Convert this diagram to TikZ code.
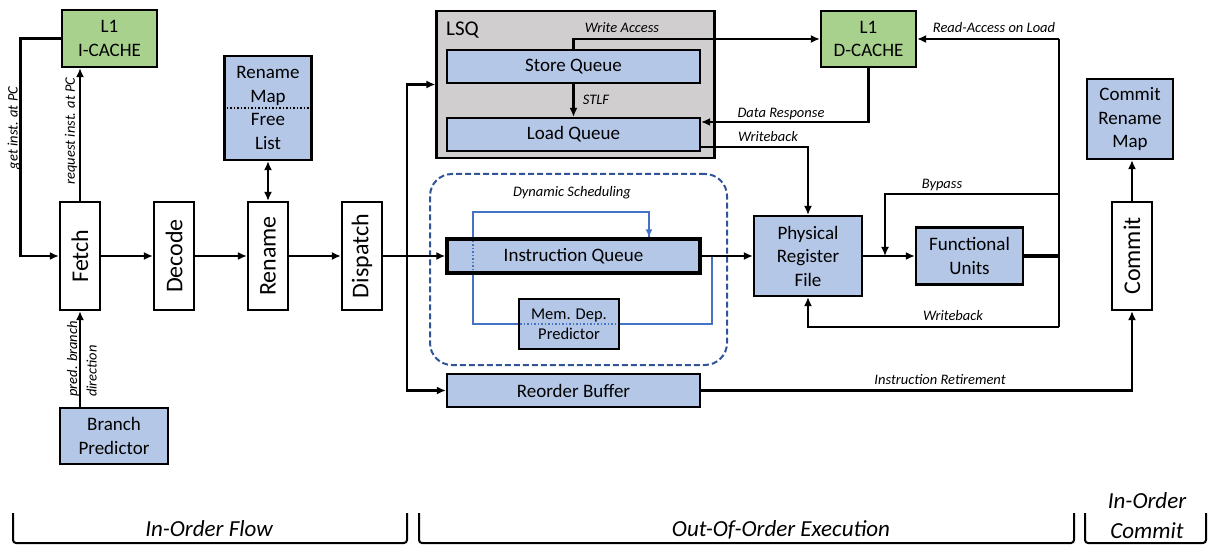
\documentclass[tikz,border=0pt]{standalone}
\usepackage{fontspec}
\usepackage{graphicx}
\setmainfont{Carlito}
\usetikzlibrary{arrows.meta,calc}
\pgfdeclarelayer{background}
\pgfsetlayers{background,main}
\definecolor{boxblue}{HTML}{B4C7E7}
\definecolor{boxgreen}{HTML}{A9D18E}
\definecolor{lsqgray}{HTML}{D0CECE}
\definecolor{dsblue}{HTML}{2F5597}
\definecolor{lnblue}{HTML}{4472C4}
\begin{document}
\begin{tikzpicture}[x=1pt,y=-1pt,
  box/.style={draw=black, line width=2.2pt, inner sep=0pt, align=center, font=\fontsize{19}{23.5}\selectfont},
  bbox/.style={box, fill=boxblue},
  gbox/.style={box, fill=boxgreen},
  stagebox/.style={draw=black, line width=2.2pt, fill=white, inner sep=0pt, minimum width=40pt, minimum height=108pt},
  lab/.style={font=\fontsize{14.5}{19.5}\selectfont\itshape, inner sep=0pt},
  bracelab/.style={font=\fontsize{23}{30}\selectfont\itshape, inner sep=0pt, align=center},
  conn/.style={line width=2.9pt},
  arr/.style={conn, -{Latex[length=9pt,width=8pt]}},
  bline/.style={draw=lnblue, line width=1.8pt},
  brace/.style={line width=2pt, rounded corners=3pt}
]
\useasboundingbox (0,0) rectangle (1213,545);

% dynamic scheduling region
\node[draw=dsblue, dashed, dash pattern=on 6pt off 3pt, line width=2pt, rounded corners=22pt,
      minimum width=297pt, minimum height=191pt, inner sep=0pt] (ds) at (578.5,269.5) {};
\node[lab, anchor=base] (dslab) at (572,197) {Dynamic Scheduling};

% LSQ
\node[draw=black, fill=lsqgray, line width=2.2pt, minimum width=278pt, minimum height=147pt, inner sep=0pt] (lsq) at (575.5,84.5) {};
\node[font=\fontsize{21}{24}\selectfont, anchor=west, inner sep=0pt] (lsqlab) at (446,30) {LSQ};
\node[bbox, minimum width=253pt, minimum height=33pt] (sq) at (573.5,66.5) {Store Queue};
\node[bbox, minimum width=253pt, minimum height=33pt] (lq) at (573.5,134.5) {Load Queue};

% caches
\node[gbox, minimum width=95pt, minimum height=57pt] (icache) at (109.5,38.5) {L1\\I-CACHE};
\node[gbox, minimum width=95pt, minimum height=56pt] (dcache) at (868.5,39) {L1\\D-CACHE};

% rename map
\node[bbox, minimum width=87pt, minimum height=104pt] (rmap) at (268,108) {Rename\\Map\\Free\\List};
\draw[line width=1.5pt, dotted] (rmap.west) -- (rmap.east);

% stages
\node[stagebox] (fetch) at (80,256) {\rotatebox{90}{\fontsize{24}{28}\selectfont Fetch}};
\node[stagebox] (decode) at (174,256) {\rotatebox{90}{\fontsize{24}{28}\selectfont Decode}};
\node[stagebox] (rename) at (268,256) {\rotatebox{90}{\fontsize{24}{28}\selectfont Rename}};
\node[stagebox] (dispatch) at (362,256) {\rotatebox{90}{\fontsize{24}{28}\selectfont Dispatch}};
\node[stagebox] (commit) at (1132,256) {\rotatebox{90}{\fontsize{24}{28}\selectfont Commit}};

\node[bbox, minimum width=108pt, minimum height=56pt] (bp) at (114,436) {Branch\\Predictor};
\node[bbox, minimum width=86pt, minimum height=80pt] (crm) at (1130,119) {Commit\\Rename\\Map};

% out-of-order boxes
\node[bbox, line width=3.3pt, minimum width=253pt, minimum height=34pt] (iq) at (573.5,256) {Instruction Queue};
\node[bbox, font=\fontsize{16.5}{20}\selectfont, minimum width=100pt, minimum height=50pt] (mdp) at (569,324) {Mem. Dep.\\Predictor};
\node[bbox, minimum width=253pt, minimum height=33pt] (rob) at (573.5,390.5) {Reorder Buffer};
\node[bbox, minimum width=108pt, minimum height=80pt] (prf) at (808,256) {Physical\\Register\\File};
\node[bbox, minimum width=107pt, minimum height=57pt] (fu) at (969.5,256) {Functional\\Units};

% blue scheduling path (behind boxes)
\coordinate (bsplit) at (712,256);
\coordinate (bturn) at (649,212);
\begin{pgfonlayer}{background}
\draw[bline] (bsplit) |- (473,324) |- (bturn) -- (bturn |- iq.north);
\end{pgfonlayer}
\draw[bline, -{Latex[length=8pt,width=7pt]}] ($(bturn |- iq.north)+(0,-10)$) -- (bturn |- iq.north);

% blue dotted see-through parts
\draw[bline, line width=1.5pt, dotted] (473,241) -- (473,271);
\draw[bline, line width=1.5pt, dotted] (520,324) -- (618,324);

% front-end connectors
\draw[arr] (icache.west) -- ++(-40,0) |- (fetch.west);
\node[lab, rotate=90] (getlab) at (14,128) {get inst. at PC};
\draw[arr] (fetch.north) -- (fetch.north |- icache.south);
\node[lab, rotate=90] (reqlab) at (71,131) {request inst. at PC};
\draw[arr] (fetch.south |- bp.north) -- (fetch.south);
\node[lab, rotate=90, align=left, anchor=west] (predlab) at (82,397) {pred. branch\\direction};
\draw[arr] (fetch.east) -- (decode.west);
\draw[arr] (decode.east) -- (rename.west);
\draw[arr] (rename.east) -- (dispatch.west);
\draw[conn, {Latex[length=9pt,width=8pt]}-{Latex[length=9pt,width=8pt]}] (rmap.south) -- (rename.north);

% dispatch
\coordinate (dsplit) at (407,256);
\draw[arr] (dispatch.east) -- (iq.west);
\draw[arr] (dsplit) |- (lsq.west);
\draw[arr] (dsplit) |- (rob.west);

% LSQ and D-cache
\draw[arr] (sq.north) |- (dcache.west);
\node[lab, anchor=base] (walab) at (622,33) {Write Access};
\draw[arr] (sq.south) -- (lq.north);
\node[lab, anchor=base] (stlflab) at (596,105) {STLF};
\draw[arr] (dcache.south) |- ([yshift=12.5pt]lq.east);
\node[lab, anchor=base] (drlab) at (781,118) {Data Response};
\draw[arr] ([yshift=-12.5pt]lq.east) -| (prf.north);
\node[lab, anchor=base] (wb1lab) at (768,142) {Writeback};

% execution
\draw[arr] (iq.east) -- (prf.west);
\draw[arr] (prf.east) -- (fu.west);
\coordinate (bustop) at (1059,39);
\coordinate (busbot) at (1059,327);
\coordinate (bypass) at (1059,194);
\coordinate (bpin) at (885,256);
\draw[conn] (bustop) -- (busbot);
\draw[conn, line width=3.4pt] (fu.east) -- (fu.east -| bustop);
\draw[arr] (bustop) -- (dcache.east);
\node[lab, anchor=base] (ralab) at (994,33) {Read-Access on Load};
\draw[arr] (bypass) -| (bpin);
\node[lab, anchor=base] (bylab) at (942,189) {Bypass};
\draw[arr] (busbot) -| (prf.south);
\node[lab, anchor=base] (wb2lab) at (953,321) {Writeback};

% commit
\draw[arr] (rob.east) -| (commit.south);
\node[lab, anchor=base] (irlab) at (940,384) {Instruction Retirement};
\draw[arr] (commit.north) -- (commit.north |- crm.south);

% braces
\draw[brace] (13,513) -- (13,543) -- (407,543) -- (407,513);
\draw[brace] (419,513) -- (419,543) -- (1074,543) -- (1074,513);
\draw[brace] (1085,513) -- (1085,543) -- (1206,543) -- (1206,513);
\node[bracelab, anchor=base] (b1) at (209,536) {In-Order Flow};
\node[bracelab, anchor=base] (b2) at (781,536) {Out-Of-Order Execution};
\node[bracelab] (b3) at (1147,516) {In-Order\\Commit};
\end{tikzpicture}
\end{document}
